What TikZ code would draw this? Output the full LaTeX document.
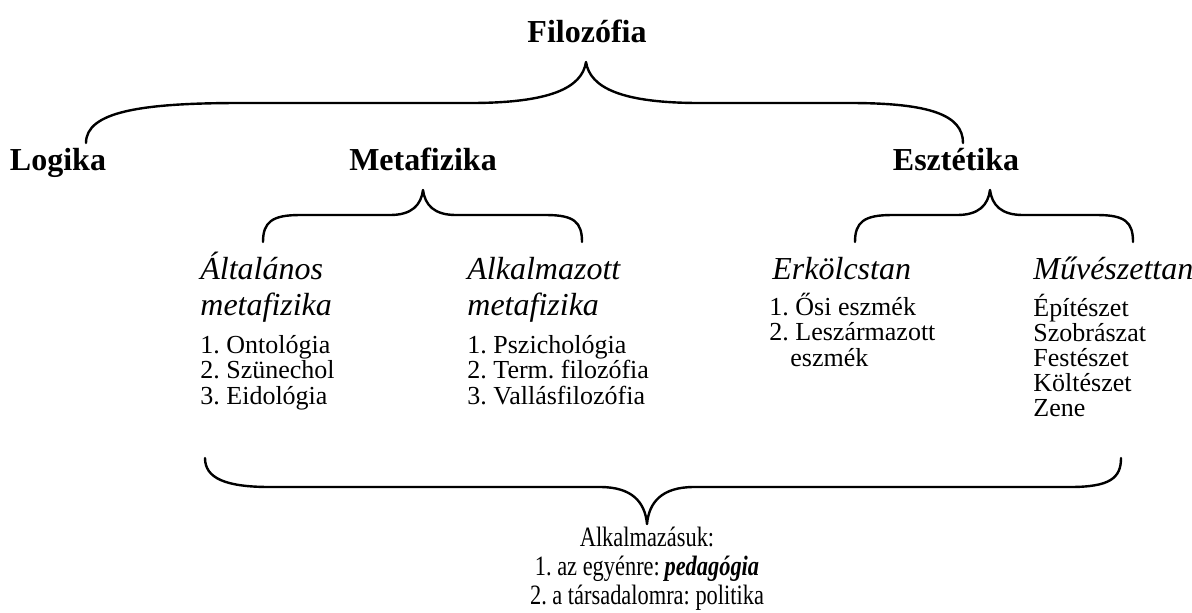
\documentclass[tikz,border=0pt]{standalone}
\usepackage{fontspec}
\setmainfont{Liberation Serif}
\newfontfamily\narrowfont[FakeStretch=0.8]{Liberation Serif}
\frenchspacing
\usetikzlibrary{calc}
\tikzset{
    head/.style={font=\fontsize{16}{18}\selectfont\bfseries, inner sep=0pt, anchor=base},
    sub/.style={font=\fontsize{16}{18}\selectfont\itshape, inner sep=0pt, anchor=base west},
    item/.style={font=\fontsize{13}{15}\selectfont, inner sep=0pt, anchor=base west},
    summary/.style={font=\fontsize{14}{16}\narrowfont, inner sep=0pt, anchor=base},
    brace/.style={line width=1.2pt, line cap=round, line join=round},
}

\begin{document}
\begin{tikzpicture}[x=0.5pt,y=-0.5pt]
\useasboundingbox (0,0) rectangle (1192,612);
    % main headings
    \node[head] (fil) at (587,42) {Filozófia};
    \node[head] (log) at (58,170) {Logika};
    \node[head] (met) at (423,170) {Metafizika};
    \node[head] (esz) at (956,170) {Esztétika};
    % top brace
    \coordinate (t0) at (86,143);
    \coordinate (t1) at (586,62);
    \coordinate (t2) at (963,143);
    \draw[brace] (t0) .. controls (86,112) and (140,103) .. (240,103)
        -- (470,103) .. controls (550,103) and (582,88) .. (t1)
        .. controls (590,88) and (622,103) .. (700,103)
        -- (850,103) .. controls (930,103) and (963,115) .. (t2);
    % metafizika brace
    \coordinate (m0) at (263,242);
    \coordinate (m1) at (423,190);
    \coordinate (m2) at (582,242);
    \draw[brace] (m0) .. controls (263,222) and (272,215) .. (300,215)
        -- (390,215) .. controls (412,215) and (421,205) .. (m1)
        .. controls (425,205) and (434,215) .. (456,215)
        -- (546,215) .. controls (574,215) and (582,222) .. (m2);
    % esztetika brace
    \coordinate (e0) at (855,242);
    \coordinate (e1) at (990,190);
    \coordinate (e2) at (1133,242);
    \draw[brace] (e0) .. controls (855,222) and (864,215) .. (892,215)
        -- (957,215) .. controls (979,215) and (988,205) .. (e1)
        .. controls (992,205) and (1001,215) .. (1023,215)
        -- (1097,215) .. controls (1125,215) and (1133,222) .. (e2);
    % sub headings
    \node[sub] (alt) at (200,279) {Általános};
    \node[sub] (alt2) at (200,315) {metafizika};
    \node[sub] (alk) at (467,279) {Alkalmazott};
    \node[sub] (alk2) at (467,315) {metafizika};
    \node[sub] (erk) at (772,279) {Erkölcstan};
    \node[sub] (muv) at (1033,279) {Művészettan};
    % lists
    \foreach [count=\i] \t in {1. Ontológia, 2. Szünechol, 3. Eidológia}
        {\node[item] (a\i) at (200,{353+25.5*(\i-1)}) {\t};}
    \foreach [count=\i] \t in {1. Pszichológia, 2. Term. filozófia, 3. Vallásfilozófia}
        {\node[item] (b\i) at (467,{353+25.5*(\i-1)}) {\t};}
    \foreach [count=\i] \t in {1. Ősi eszmék, 2. Leszármazott}
        {\node[item] (c\i) at (769,{315+25.5*(\i-1)}) {\t};}
    \node[item] (c3) at (790,366) {eszmék};
    \foreach [count=\i] \t in {Építészet, Szobrászat, Festészet, Költészet, Zene}
        {\node[item] (d\i) at (1033,{316+25.2*(\i-1)}) {\t};}
    % bottom brace
    \coordinate (b0) at (205,458);
    \coordinate (b1) at (647,524);
    \coordinate (b2) at (1121,458);
    \draw[brace] (b0) .. controls (205,478) and (225,487) .. (270,487)
        -- (600,487) .. controls (632,487) and (645,502) .. (b1)
        .. controls (649,502) and (662,487) .. (694,487)
        -- (1070,487) .. controls (1110,487) and (1121,478) .. (b2);
    % application
    \node[summary] (app) at (647,546) {Alkalmazásuk:};
    \node[summary] (app1) at (647,575) {1. az egyénre:\,\textbf{\textit{pedagógia}}};
    \node[summary] (app2) at (647,604) {2. a társadalomra: politika};
\end{tikzpicture}
\end{document}
